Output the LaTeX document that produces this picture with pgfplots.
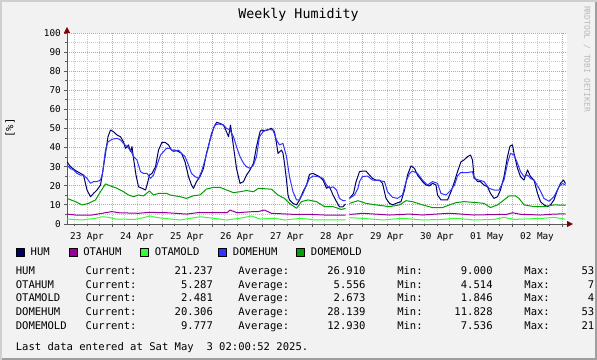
\documentclass[border=0pt]{standalone}
\usepackage{fontspec}
\setmainfont{DejaVu Sans Mono}
\usepackage{pgfplots}
\pgfplotsset{compat=1.18}
\usetikzlibrary{arrows.meta}
\definecolor{hum}{RGB}{0,0,102}
\definecolor{otahum}{RGB}{153,0,153}
\definecolor{otamold}{RGB}{51,255,51}
\definecolor{domehum}{RGB}{51,51,255}
\definecolor{domemold}{RGB}{0,160,0}
\definecolor{bgc}{RGB}{242,242,242}
\definecolor{shadea}{RGB}{207,207,207}
\definecolor{shadeb}{RGB}{158,158,158}
\definecolor{gridc}{RGB}{200,200,200}
\definecolor{mgridc}{RGB}{226,150,150}
\definecolor{axisc}{RGB}{90,90,90}
\definecolor{arrowc}{RGB}{127,0,0}
\definecolor{wm}{RGB}{185,185,185}
\newcommand\lfont{\fontsize{10.56bp}{12bp}\selectfont}
\newcommand\afont{\fontsize{9.33bp}{10bp}\selectfont}
\newcommand\tfont{\fontsize{13.3bp}{15bp}\selectfont}
\newcommand\wfont{\fontsize{8bp}{9bp}\selectfont}
\begin{document}
\begin{tikzpicture}
\path[use as bounding box, fill=bgc] (0,0) rectangle (597bp,360bp);
\begin{axis}[
  at={(67bp,136bp)}, anchor=south west,
  scale only axis, width=500bp, height=191bp,
  xmin=0.1, xmax=10.1, ymin=0, ymax=100,
  axis background/.style={fill=white},
  axis x line=bottom, axis y line=left,
  axis line style={draw=axisc, line width=0.8bp},
  x axis line style={-{Triangle[length=6bp,width=6bp,color=arrowc]}, shorten >=-6bp},
  y axis line style={-{Triangle[length=6bp,width=6bp,color=arrowc]}, shorten >=-6bp},
  xtick={1,2,...,10}, xticklabels={},
  minor xtick={0.25,0.5,...,10},
  extra x ticks={0.5,1.5,...,9.5},
  extra x tick labels={23 Apr,24 Apr,25 Apr,26 Apr,27 Apr,28 Apr,29 Apr,30 Apr,01 May,02 May},
  extra x tick style={grid=none, major tick length=0pt},
  ytick={0,10,...,100}, minor ytick={5,15,...,95},
  grid=both,
  major grid style={draw=mgridc, dash pattern=on 1bp off 1bp, line width=0.8bp},
  minor grid style={draw=gridc, dash pattern=on 1bp off 1bp, line width=0.8bp},
  tick align=outside, major tick length=3bp, minor tick length=2bp,
  tick style={draw=axisc, line width=0.8bp},
  /pgf/number format/assume math mode=true,
  ticklabel style={font=\afont, text=black},
  yticklabel style={inner sep=0pt, xshift=-3bp},
  xticklabel style={inner sep=0pt, yshift=-8bp},
  unbounded coords=jump,
  legend columns=-1,
  legend style={at={(-0.102,-0.1503)}, anchor=west, draw=none, fill=none, inner sep=0pt, font=\lfont, nodes={inner sep=0pt},
    /tikz/every odd column/.append style={column sep=6bp},
    /tikz/every even column/.append style={column sep=19bp}},
  legend cell align=left,
  every axis plot/.append style={line width=1bp, line join=round},
]
\addlegendimage{legend image code/.code={\draw[draw=black, line width=0.5bp, fill=hum] (0bp,-4bp) rectangle (8bp,4bp);}}
\addlegendentry{HUM}
\addlegendimage{legend image code/.code={\draw[draw=black, line width=0.5bp, fill=otahum] (0bp,-4bp) rectangle (8bp,4bp);}}
\addlegendentry{OTAHUM}
\addlegendimage{legend image code/.code={\draw[draw=black, line width=0.5bp, fill=otamold] (0bp,-4bp) rectangle (8bp,4bp);}}
\addlegendentry{OTAMOLD}
\addlegendimage{legend image code/.code={\draw[draw=black, line width=0.5bp, fill=domehum] (0bp,-4bp) rectangle (8bp,4bp);}}
\addlegendentry{DOMEHUM}
\addlegendimage{legend image code/.code={\draw[draw=black, line width=0.5bp, fill=domemold] (0bp,-4bp) rectangle (8bp,4bp);}}
\addlegendentry{DOMEMOLD}

% HUM
\addplot[hum, forget plot] coordinates {(0.10,32.6)(0.17,30)(0.27,28)(0.37,26.5)(0.43,25.6)(0.50,17.8)(0.57,14.3)(0.63,16)(0.70,17.8)(0.77,20.4)(0.81,26.5)(0.87,37)(0.92,45.7)(0.97,49.2)(1.03,48.3)(1.10,46.6)(1.17,45.7)(1.23,43)(1.27,39.6)(1.33,41.4)(1.37,37.9)(1.40,40.5)(1.43,34.4)(1.48,25.6)(1.53,19.5)(1.60,18.7)(1.67,17.8)(1.70,20.4)(1.75,25.6)(1.80,26.5)(1.87,30)(1.93,38.7)(2.00,42.8)(2.06,42.8)(2.13,41.4)(2.19,38.7)(2.26,38.7)(2.33,37.9)(2.39,37)(2.46,32.6)(2.53,24.8)(2.59,20.4)(2.63,18.7)(2.69,22.2)(2.76,24.8)(2.83,29.1)(2.89,37)(2.96,44)(3.03,50.1)(3.09,53.2)(3.16,52.7)(3.23,51.8)(3.29,48.3)(3.33,45.7)(3.37,51.8)(3.43,40.5)(3.49,29.1)(3.56,21.3)(3.63,22.2)(3.69,25.6)(3.76,28.3)(3.83,31.8)(3.89,40.5)(3.96,48.3)(3.99,49.2)(4.05,48.9)(4.12,49.2)(4.19,50.1)(4.25,48.3)(4.29,42.2)(4.32,37)(4.39,38.7)(4.42,37)(4.45,31.8)(4.49,23)(4.52,15.2)(4.55,12.6)(4.62,10.8)(4.69,10)(4.75,12.6)(4.82,16.9)(4.89,20.4)(4.95,26)(5.02,26.5)(5.09,25.6)(5.15,24.8)(5.22,23)(5.29,18.7)(5.35,19.5)(5.42,15.2)(5.49,11.7)(5.55,9)(5.62,9)(5.67,10.5)(5.71,nan)(5.75,13.4)(5.83,16)(5.88,22)(5.95,27.4)(6.01,27.7)(6.08,27.7)(6.15,25.6)(6.21,23.9)(6.28,23)(6.35,23)(6.41,21.3)(6.48,13.4)(6.55,10.8)(6.61,10)(6.68,10.8)(6.78,11.7)(6.85,17.8)(6.91,25.6)(6.98,30.4)(7.05,29.1)(7.11,25.6)(7.21,22.2)(7.28,20.4)(7.35,19.9)(7.41,21.3)(7.48,20.4)(7.51,15.2)(7.58,12.6)(7.65,12.6)(7.71,12.6)(7.78,16.9)(7.85,22.2)(7.91,27.4)(7.98,32.6)(8.04,33.5)(8.11,35.3)(8.17,36.1)(8.21,33.5)(8.24,24.8)(8.31,22.2)(8.37,22.2)(8.44,20.4)(8.51,19.5)(8.57,16)(8.64,13.4)(8.71,14.3)(8.77,17.8)(8.84,24.8)(8.91,35.3)(8.96,40.8)(9.01,41.4)(9.04,37)(9.11,29.1)(9.17,24.8)(9.24,23)(9.31,28.3)(9.37,24.8)(9.44,23)(9.51,16)(9.57,11.7)(9.64,10)(9.71,9.1)(9.77,10)(9.84,12.6)(9.91,17.8)(9.97,21.3)(10.03,23)(10.07,21.2)};
% OTAHUM
\addplot[otahum, forget plot] coordinates {(0.10,5.2)(0.27,4.7)(0.60,4.7)(0.80,5.6)(1.00,6.5)(1.13,5.9)(1.53,5.6)(1.73,6.1)(2.10,5.9)(2.49,5.2)(2.70,5.9)(3.30,5.9)(3.36,7.3)(3.50,5.9)(3.83,6.5)(3.92,6.5)(4.05,7.3)(4.19,5.6)(4.59,5.1)(4.92,5.1)(5.25,4.7)(5.67,4.7)(5.71,nan)(5.75,5.0)(5.85,5.2)(6.01,5.6)(6.55,4.7)(6.95,5.2)(7.21,4.7)(7.48,5.2)(7.75,5.6)(7.98,5.2)(8.24,4.7)(8.90,5.1)(9.01,5.9)(9.17,5.1)(9.57,4.7)(9.84,5.2)(10.07,5.3)};
% OTAMOLD
\addplot[otamold, forget plot] coordinates {(0.10,2.6)(0.40,2.1)(0.67,3.0)(0.80,3.8)(0.93,3.5)(1.07,2.6)(1.47,2.4)(1.77,4.2)(1.87,3.5)(2.10,2.8)(2.36,2.1)(2.76,3.8)(3.03,3.0)(3.29,2.1)(3.56,3.0)(3.79,4.2)(3.96,2.6)(4.25,3.0)(4.45,2.1)(4.79,3.0)(5.05,2.1)(5.67,2.1)(5.71,nan)(5.75,3.3)(5.99,3.0)(6.41,2.1)(6.81,3.0)(7.21,2.1)(7.61,2.4)(7.88,3.0)(8.24,2.1)(8.64,2.4)(8.84,3.5)(9.04,2.4)(9.64,3.0)(9.84,3.5)(10.07,2.5)};
% DOMEHUM
\addplot[domehum, forget plot] coordinates {(0.10,30.9)(0.17,29)(0.23,28.3)(0.30,26.5)(0.37,25.6)(0.43,25.6)(0.50,23.9)(0.57,21.3)(0.63,22.2)(0.70,22.2)(0.77,23)(0.81,26.5)(0.87,38.7)(0.92,43)(1.00,44.3)(1.10,44.9)(1.17,44)(1.23,42.2)(1.30,40.5)(1.37,38.7)(1.43,35.3)(1.50,33.5)(1.57,27.4)(1.63,26.5)(1.70,26.5)(1.77,23.9)(1.83,25.6)(1.90,30.9)(1.97,36.1)(2.03,37.9)(2.09,39.6)(2.16,39.6)(2.23,37.9)(2.33,38.7)(2.39,37)(2.46,35.3)(2.53,30.9)(2.59,26.5)(2.66,24.8)(2.73,23.9)(2.79,27.4)(2.86,33.5)(2.93,40.5)(2.99,47.5)(3.06,51.8)(3.13,52.4)(3.23,51.8)(3.29,50.1)(3.36,49.2)(3.43,45.7)(3.49,40.5)(3.56,35.3)(3.63,31.8)(3.69,30)(3.76,29.1)(3.83,30.9)(3.89,35.3)(3.95,45.7)(4.02,48.3)(4.12,49.6)(4.22,49.2)(4.29,44)(4.35,41.4)(4.42,42.2)(4.49,35.3)(4.55,24.8)(4.62,16.9)(4.69,12.6)(4.75,12.6)(4.82,16)(4.89,20.4)(4.95,23.9)(5.02,25.1)(5.12,24.8)(5.22,23.9)(5.29,20.4)(5.35,18.7)(5.42,19.5)(5.49,17.8)(5.55,13.4)(5.62,12.2)(5.67,12.2)(5.71,nan)(5.75,13.4)(5.85,15.2)(5.92,18.7)(5.95,22.2)(6.01,24.8)(6.11,25.1)(6.21,23)(6.35,22.7)(6.45,22.2)(6.51,16.9)(6.61,14)(6.71,13.4)(6.81,15.2)(6.88,22.2)(6.95,26.5)(7.01,27.7)(7.11,26.5)(7.21,23)(7.31,20.4)(7.41,22.2)(7.51,21.3)(7.58,16)(7.68,15.2)(7.78,17.8)(7.85,20.4)(7.91,25.2)(7.97,26.9)(8.11,26.9)(8.21,27.4)(8.24,23.9)(8.34,23)(8.44,22.2)(8.54,18.7)(8.64,17.8)(8.74,17.8)(8.84,23)(8.91,31.8)(8.97,37)(9.04,36.1)(9.11,31.8)(9.17,27.4)(9.24,24.8)(9.31,25.6)(9.37,23.9)(9.44,23)(9.54,18.7)(9.64,13.4)(9.74,11.9)(9.84,14.3)(9.94,19.5)(10.01,21.3)(10.07,20.3)};
% DOMEMOLD
\addplot[domemold, forget plot] coordinates {(0.10,13.4)(0.27,11.7)(0.40,10)(0.53,10.8)(0.67,12.6)(0.77,16.9)(0.87,21)(0.97,19.9)(1.10,18.7)(1.23,16.9)(1.33,15.2)(1.43,14.3)(1.53,15.2)(1.63,14.7)(1.75,17.3)(1.83,15.2)(1.93,16)(2.10,16)(2.16,15.2)(2.36,14.3)(2.49,13.4)(2.63,14.8)(2.76,15.2)(2.89,18.3)(3.03,19.2)(3.16,19.2)(3.29,17.8)(3.43,16.4)(3.56,16.9)(3.69,17.5)(3.83,16.9)(3.93,18.7)(4.19,18.2)(4.32,15.2)(4.45,13.4)(4.55,10.8)(4.69,8.2)(4.79,11.7)(4.92,12.6)(5.09,11.7)(5.25,9.1)(5.42,9.1)(5.59,7.6)(5.67,8.2)(5.71,nan)(5.75,10.8)(5.92,12.2)(6.08,10.8)(6.28,10)(6.55,9.1)(6.75,10)(6.88,12.2)(7.01,11.7)(7.21,10)(7.41,8.6)(7.61,8.6)(7.75,10)(7.88,11.2)(8.04,11.7)(8.24,11.3)(8.44,10.8)(8.57,8.6)(8.71,10)(8.84,12.6)(8.94,14.7)(9.07,14.7)(9.14,13.4)(9.24,10)(9.44,9.1)(9.64,9.1)(9.84,10)(10.07,9.8)};
\end{axis}
\node[anchor=base, font=\tfont, inner sep=0pt] at (298.5bp,341bp) {Weekly Humidity};
\node[rotate=90, font=\lfont, inner sep=0pt] at (10bp,232bp) {[\%]};
\node[rotate=-90, font=\wfont, text=wm, inner sep=0pt] at (587bp,301bp) {RRDTOOL / TOBI OETIKER};
\begin{scope}[every node/.style={anchor=base west, inner sep=0pt, font=\lfont}]
\node at (15.6bp,85.6bp) {HUM~~~~~~~~Current:~~~~~~21.237~~~~Average:~~~~~~26.910~~~~~Min:~~~~~~9.000~~~~~Max:~~~~~53};
\node at (15.6bp,71.8bp) {OTAHUM~~~~~Current:~~~~~~~5.287~~~~Average:~~~~~~~5.556~~~~~Min:~~~~~~4.514~~~~~Max:~~~~~~7};
\node at (15.6bp,58.0bp) {OTAMOLD~~~~Current:~~~~~~~2.481~~~~Average:~~~~~~~2.673~~~~~Min:~~~~~~1.846~~~~~Max:~~~~~~4};
\node at (15.6bp,44.2bp) {DOMEHUM~~~~Current:~~~~~~20.306~~~~Average:~~~~~~28.139~~~~~Min:~~~~~11.828~~~~~Max:~~~~~53};
\node at (15.6bp,30.4bp) {DOMEMOLD~~~Current:~~~~~~~9.777~~~~Average:~~~~~~12.930~~~~~Min:~~~~~~7.536~~~~~Max:~~~~~21};
\node at (15.6bp,9.4bp) {Last data entered at Sat May~~3 02:00:52 2025.};
\end{scope}
\fill[shadea] (0,358bp) rectangle (597bp,360bp);
\fill[shadea] (0,0) rectangle (2bp,360bp);
\fill[shadeb] (2bp,0) rectangle (597bp,2bp);
\fill[shadeb] (595bp,0) rectangle (597bp,358bp);
\end{tikzpicture}
\end{document}
